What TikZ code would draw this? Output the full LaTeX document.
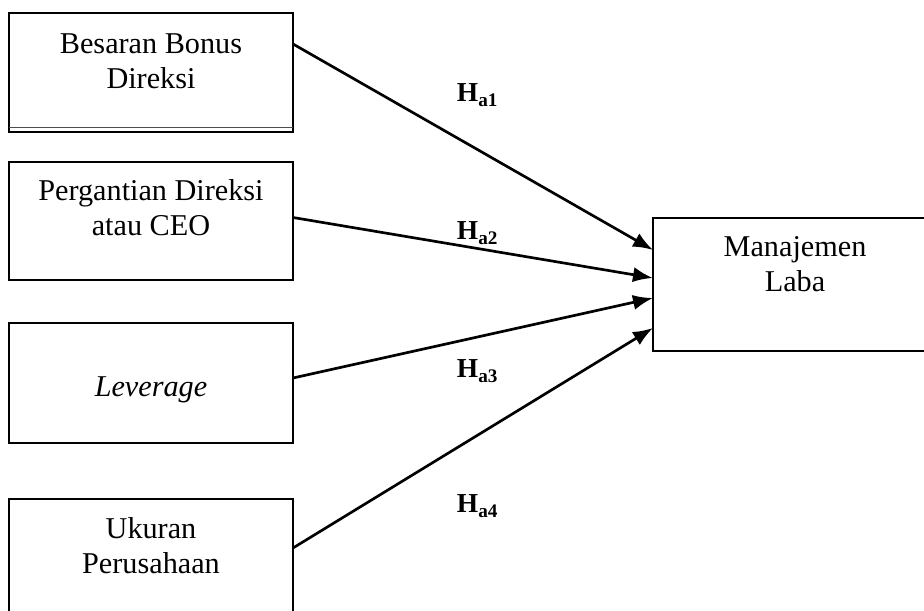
\documentclass[tikz,border=0pt]{standalone}
\usepackage{fontspec}
\setmainfont{Liberation Serif}
\usepackage{tikz}
\usetikzlibrary{arrows.meta,positioning}

\begin{document}
\begin{tikzpicture}[
    varbox/.style={draw, line width=1.7pt, minimum width=7.1cm, inner sep=0pt, outer sep=0pt},
    vartext/.style={align=center, font=\fontsize{21.5}{25}\selectfont},
    hyplabel/.style={anchor=base west, font=\fontsize{19.5}{23}\selectfont\bfseries},
    hyparrow/.style={line width=1.9pt, -{Latex[length=5mm,width=3.8mm]}}
]
    \useasboundingbox (0,0) rectangle (23.1,15.275);
    \clip (0,0) rectangle (23.1,15.275);

    % Independent variables
    \node[varbox, minimum height=2.975cm] (bonus) at (3.775,13.4625) {};
    \node[vartext] (bonustxt) at (3.775,13.7375) {Besaran Bonus\\Direksi};
    \draw[black!70, line width=0.6pt] ([yshift=0.125cm]bonus.south west) -- ([yshift=0.125cm]bonus.south east);

    \node[varbox, minimum height=2.95cm] (ceo) at (3.775,9.75) {};
    \node[vartext] (ceotxt) at (3.775,10.075) {Pergantian Direksi\\atau CEO};

    \node[varbox, minimum height=3cm] (lev) at (3.775,5.7) {};
    \node[vartext] (levtxt) at (3.775,5.525) {\textit{Leverage}};

    \node[varbox, minimum height=3cm] (size) at (3.775,1.3) {};
    \node[vartext] (sizetxt) at (3.775,1.6375) {Ukuran\\Perusahaan};

    % Dependent variable
    \node[varbox, minimum height=3.325cm] (laba) at (19.875,8.1625) {};
    \node[vartext] (labatxt) at (19.875,8.6625) {Manajemen\\Laba};

    % Hypotheses
    \draw[hyparrow] ([yshift=0.7125cm]bonus.east) -- ([yshift=0.8625cm]laba.west);
    \draw[hyparrow] ([yshift=0.0875cm]ceo.east) -- ([yshift=0.1625cm]laba.west);
    \draw[hyparrow] ([yshift=0.125cm]lev.east) -- ([yshift=-0.3375cm]laba.west);
    \draw[hyparrow] ([yshift=0.275cm]size.east) -- ([yshift=-1.0875cm]laba.west);

    \node[hyplabel] (ha1) at (11.3,12.725) {H\textsubscript{a1}};
    \node[hyplabel] (ha2) at (11.3,9.275) {H\textsubscript{a2}};
    \node[hyplabel] (ha3) at (11.3,5.825) {H\textsubscript{a3}};
    \node[hyplabel] (ha4) at (11.3,2.45) {H\textsubscript{a4}};
\end{tikzpicture}
\end{document}
